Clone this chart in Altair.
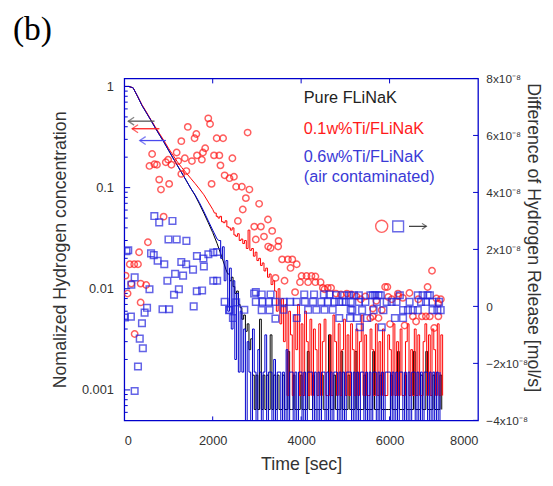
import altair as alt
import pandas as pd

W, H = 359, 347
AXIS_BLUE = "#0000cc"
FONT = "Liberation Sans"
GRAY = "#333333"

# ---------------- scales / ticks ----------------
X_DOMAIN = [0, 8000]
X_TICKS = [0, 2000, 4000, 6000, 8000]
X_INNER_TICKS = [2000, 4000, 6000]
LEFT_DOMAIN = [0.0005, 1.2]
LEFT_MAJOR = [0.001, 0.01, 0.1, 1]
LEFT_MINOR = [0.0006, 0.0007, 0.0008, 0.0009,
              0.002, 0.003, 0.004, 0.005, 0.006, 0.007, 0.008, 0.009,
              0.02, 0.03, 0.04, 0.05, 0.06, 0.07, 0.08, 0.09,
              0.2, 0.3, 0.4, 0.5, 0.6, 0.7, 0.8, 0.9]
RIGHT_DOMAIN = [-4, 8]          # units of 1e-8 mol/s
RIGHT_TICKS = [-4, -2, 0, 2, 4, 6, 8]

# ---------------- normalized concentration (left axis) ----------------
# smooth part sampled every 100 s from t=0
BLACK_SMOOTH = [1.0, 1.0, 0.97, 0.80, 0.65, 0.55, 0.465, 0.39, 0.33, 0.28,
                0.235, 0.197, 0.166, 0.14, 0.118, 0.099, 0.084, 0.069, 0.056, 0.045,
                0.036, 0.028, 0.021, 0.0155]
RED_SMOOTH = [1.0, 1.0, 0.97, 0.80, 0.66, 0.56, 0.47, 0.40, 0.34, 0.29,
              0.245, 0.21, 0.18, 0.158, 0.14, 0.124, 0.11, 0.097, 0.085, 0.072, 0.061]
BLUE_SMOOTH = [1.0, 1.0, 0.97, 0.80, 0.65, 0.55, 0.465, 0.39, 0.33, 0.28,
               0.235, 0.197, 0.166, 0.14, 0.118, 0.099, 0.085, 0.071, 0.058, 0.047,
               0.038, 0.031]
# noisy part sampled every 40 s, values in units of 1e-4
BLACK_TAIL_START = 2340
BLACK_TAIL_E4 = [140, 120, 130, 105, 90, 95, 70, 65, 50, 55,
                 38, 45, 25, 32, 14, 6.4, 14, 6.4, 50, 6.4,
                 14, 6.4, 14, 6.4, 35, 6.4, 14, 6.4, 14, 6.4,
                 6.4, 14, 6.4, 6.4, 24, 6.4, 6.4, 14, 6.4, 6.4,
                 6.4, 14, 6.4, 6.4, 6.4, 24, 6.4, 6.4, 14, 6.4,
                 6.4, 6.4, 6.4, 14, 6.4, 6.4, 6.4, 35, 6.4, 6.4,
                 14, 6.4, 6.4, 6.4, 24, 6.4, 6.4, 6.4, 14, 6.4,
                 6.4, 6.4, 24, 6.4, 6.4, 6.4, 6.4, 14, 6.4, 6.4,
                 6.4, 6.4, 24, 6.4, 6.4, 6.4, 14, 6.4, 6.4, 6.4,
                 6.4, 6.4, 14, 6.4, 6.4, 6.4, 24, 6.4, 6.4, 6.4,
                 14, 6.4, 6.4, 6.4, 6.4, 24, 6.4, 6.4, 6.4, 14,
                 6.4, 6.4, 24, 6.4, 6.4, 6.4, 14, 6.4, 6.4, 6.4,
                 14, 6.4]
RED_TAIL_START = 2040
RED_TAIL_E4 = [560, 520, 500, 520, 460, 450, 470, 410, 400, 380,
               400, 340, 330, 350, 300, 310, 280, 300, 250, 380,
               240, 250, 210, 230, 190, 200, 170, 180, 150, 160,
               130, 140, 110, 120, 95, 60, 100, 45, 80, 30,
               70, 8.8, 60, 35, 8.8, 55, 25, 70, 8.8, 45,
               8.8, 60, 30, 8.8, 50, 8.8, 40, 25, 8.8, 45,
               8.8, 30, 50, 8.8, 8.8, 35, 8.8, 55, 30, 8.8,
               45, 8.8, 25, 50, 8.8, 35, 8.8, 45, 25, 8.8,
               40, 8.8, 30, 55, 8.8, 35, 8.8, 8.8, 40, 25,
               8.8, 45, 8.8, 30, 8.8, 40, 8.8, 8.8, 35, 25,
               8.8, 45, 8.8, 30, 8.8, 40, 8.8, 8.8, 30, 45,
               8.8, 25, 8.8, 40, 8.8, 35, 8.8, 8.8, 30, 45,
               8.8, 35, 8.8, 40, 25, 8.8, 45, 8.8, 35, 8.8]
BLUE_TAIL_START = 2140
BLUE_TAIL_E4 = [300, 200, 260, 120, 190, 60, 160, 40, 120, 20,
                90, 15, 60, 15, 40, 3, 30, 15, 3, 40,
                15, 3, 25, 15, 3, 15, 35, 3, 15, 15,
                3, 20, 3, 15, 15, 3, 15, 3, 25, 3,
                15, 15, 3, 15, 3, 15, 15, 3, 15, 3,
                15, 15, 15, 3, 15, 3, 15, 3, 15, 15,
                3, 15, 3, 15, 3, 15, 15, 3, 15, 3,
                15, 3, 15, 15, 15, 3, 15, 3, 15, 3,
                15, 15, 3, 15, 3, 15, 3, 15, 15, 3,
                15, 3, 15, 3, 15, 15, 15, 3, 15, 3,
                15, 3, 15, 15, 3, 15, 3, 15, 3, 15,
                15, 3, 15, 3, 15, 3, 15, 15, 3, 15,
                3, 15, 3, 15, 3, 15]

# ---------------- difference of hydrogen release (right axis, 1e-8 mol/s) ----------------
RED_PTS_T = [30, 75, 125, 160, 225, 235, 310, 335, 370, 370,
             495, 535, 570, 630, 682, 739, 790, 830, 890, 939,
             992, 1015, 1066, 1185, 1220, 1290, 1290, 1370, 1405, 1437,
             1530, 1590, 1630, 1645, 1755, 1780, 1830, 1900, 1940, 1975,
             2030, 2090, 2150, 2175, 2235, 2270, 2380, 2445, 2480, 2530,
             2570, 2660, 2680, 2750, 2790, 2830, 2940, 2975, 3050, 3090,
             3160, 3250, 3255, 3310, 3345, 3420, 3480, 3490, 3570, 3625,
             3700, 3760, 3800, 3863, 3900, 3974, 4011, 4122, 4158, 4233,
             4322, 4322, 4440, 4491, 4529, 4602, 4677, 4788, 4900, 5033,
             5135, 5250, 5350, 5454, 5565, 5623, 5623, 5750, 5823, 5900,
             5950, 5970, 6010, 6190, 6195, 6340, 6450, 6527, 6600, 6733,
             6822, 6860, 6911, 6960, 7010, 7060, 7100, 7104, 7160, 5700,
             6050, 6300, 6650]
RED_PTS_V = [1.08, 0.45, 1.48, 0.80, 1.48, -0.97, 1.48, 1.90, 0.80, 0.14,
             0.75, 2.25, 4.93, 5.35, 4.99, 4.97, 4.45, 4.10, 3.15, 5.06,
             5.15, 4.30, 4.97, 5.40, 5.10, 5.80, 4.65, 5.20, 4.75, 6.30,
             5.10, 5.90, 6.05, 5.30, 5.15, 5.40, 5.55, 6.60, 6.40, 4.30,
             5.30, 5.90, 5.30, 4.95, 5.90, 4.60, 4.50, 5.20, 4.55, 4.20,
             3.00, 4.20, 3.40, 3.80, 6.10, 4.10, 2.80, 2.35, 3.60, 2.80,
             2.45, 3.05, 2.10, 2.05, 2.65, 1.00, 2.10, 2.30, 1.65, 0.90,
             1.65, 1.35, 1.65, 0.50, 1.48, 0.85, 1.07, 1.07, 0.85, 1.07,
             1.05, 0.85, 0.85, 0.65, 0.60, 0.65, 0.65, 0.45, 0.42, 0.45,
             0.42, 0.35, 0.25, 0.35, -0.41, -0.07, -0.35, -0.41, -0.13, 0.68,
             0.68, 0.33, -0.62, 0.45, 0.36, -0.67, 0.47, -0.35, -0.53, -0.35,
             -0.35, 0.68, -0.35, 1.25, -0.76, 0.28, 0.10, -0.35, 0.25, 0.20,
             0.25, 0.30, 0.25]
BLUE_PTS_T = [15, 50, 90, 150, 160, 235, 235, 310, 350, 400,
              420, 460, 515, 570, 606, 666, 680, 755, 790, 865,
              905, 975, 1000, 1015, 1090, 1125, 1150, 1185, 1235, 1290,
              1330, 1400, 1405, 1555, 1570, 1643, 1640, 1760, 1790, 1800,
              1902, 2013, 2102, 2013, 2100, 2270, 2370, 2382, 2457, 2531,
              2715, 2937, 2975, 2975, 3108, 3108, 3124, 3270, 3286, 3308,
              3419, 3419, 3603, 3603, 3752, 3900, 3900, 4070, 4085, 4158,
              4270, 4292, 4344, 4456, 4514, 4529, 4603, 4640, 4713, 4751,
              4789, 4862, 4862, 4935, 4973, 5010, 5084, 5121, 5121, 5106,
              5157, 5195, 5268, 5306, 5306, 5328, 5379, 5454, 5490, 5566,
              5623, 5639, 5676, 5713, 5750, 5801, 5823, 5861, 5935, 6046,
              6121, 6157, 6232, 6305, 6305, 6416, 6453, 6527, 6638, 6638,
              6711, 6749, 6822, 6860, 6911, 6971, 6971, 7082, 7119, 7156]
BLUE_PTS_V = [-0.39, 1.94, 1.97, -0.36, 0.76, 1.02, -2.97, -2.11, -1.13, -0.59,
              -1.47, -0.22, -0.05, 0.60, 1.86, 1.80, 3.17, 1.60, 2.95, -0.10,
              1.48, 0.90, 2.35, -0.10, 3.00, 0.41, 1.14, 2.35, 0.60, 1.56,
              1.08, 1.48, 2.30, 1.29, 0.00, 1.77, 0.53, 0.56, 1.68, 1.40,
              1.83, 1.89, 1.91, 0.90, 0.90, 0.16, -0.13, -0.12, -0.41, 0.14,
              -0.12, 0.45, 0.50, 0.16, 0.42, -0.13, 0.16, 0.16, -0.13, 0.42,
              0.16, -0.43, 0.16, -0.12, 0.16, 0.16, -0.41, 0.42, 0.16, -0.12,
              0.16, 0.42, -0.12, 0.16, 0.42, -0.12, 0.16, 0.42, -0.12, 0.16,
              0.40, 0.16, -0.41, 0.16, 0.39, 0.16, 0.39, 0.16, -0.12, -0.41,
              -0.13, 0.39, -0.41, 0.39, 0.16, -0.73, -0.13, 0.16, -0.41, 0.39,
              0.39, -0.13, 0.39, 0.16, 0.39, 0.39, -0.73, -0.13, 0.16, 0.16,
              -0.41, 0.16, 0.39, -0.13, -0.41, -0.13, 0.16, -0.13, 0.39, -0.13,
              0.16, 0.39, 0.16, 0.39, 0.39, 0.16, -0.13, -0.13, 0.16, -0.13]

# ---------------- annotations ----------------
PANEL_LABEL = "(b)"
LABEL_TEXT = ["Pure FLiNaK", "0.1w%Ti/FLiNaK", "0.6w%Ti/FLiNaK", "(air contaminated)"]
LABEL_T = [4060, 4060, 4060, 4060]
LABEL_V = [0.766, 0.382, 0.1995, 0.126]
LABEL_COLOR = ["#222222", "#ff1a1a", "#3a3ad6", "#3a3ad6"]

ARROW_TIP_T = [89, 178, 350]
ARROW_TAIL_T = [684, 795, 942]
ARROW_V = [0.454, 0.382, 0.292]
ARROW_COLOR = ["#555555", "#ff2020", "#4a4aee"]

KEY_CIRCLE = (5822, 2.81)
KEY_SQUARE = (6194, 2.81)
KEY_ARROW = (6439, 6833, 2.81)


def smooth_df(smooth, tail_e4, start):
    # smooth decay (100 s sampling) joined to the first noisy sample
    t = [100 * i for i in range(len(smooth))] + [start]
    v = list(smooth) + [tail_e4[0] * 1e-4]
    return pd.DataFrame({"t": t, "v": v})


def tail_df(tail_e4, start):
    t = [start + 40 * i for i in range(len(tail_e4))]
    v = [x * 1e-4 for x in tail_e4]
    return pd.DataFrame({"t": t, "v": v})


common_axis = dict(labelFont=FONT, titleFont=FONT, labelColor=GRAY, titleColor=GRAY,
                   titleFontWeight="normal", ticks=False, tickSize=0, domain=False, grid=False)
x_scale = alt.Scale(domain=X_DOMAIN, nice=False, zero=False)
x_axis = alt.Axis(values=X_TICKS, format="d", labelPadding=15, labelFontSize=13,
                  title="Time [sec]", titleFontSize=18, titlePadding=8, **common_axis)
left_scale = alt.Scale(type="log", domain=LEFT_DOMAIN, nice=False)
left_axis = alt.Axis(orient="left", values=LEFT_MAJOR, format="~g", labelPadding=11,
                     labelFontSize=13, title="Nomalized Hydrogen concentration",
                     titleFontSize=18, titlePadding=12, **common_axis)
right_scale = alt.Scale(domain=RIGHT_DOMAIN, nice=False, zero=False)
right_axis = alt.Axis(orient="right", values=RIGHT_TICKS,
                      labelExpr="datum.value == 0 ? '0' : (datum.value < 0 ? '\u2212' : '') + abs(datum.value) + 'x10\u207b\u2078'",
                      labelPadding=8, labelFontSize=12,
                      title="Difference of Hydrogen Release [mol/s]",
                      titleFontSize=18, titleAngle=90, titleX=46, titleY=161,
                      titleAlign="center", titleBaseline="bottom", **common_axis)


def xe(field):
    return alt.X(field, type="quantitative", scale=x_scale, axis=x_axis)


def ly(field):
    return alt.Y(field, type="quantitative", scale=left_scale, axis=left_axis)


def ry(field):
    return alt.Y(field, type="quantitative", scale=right_scale, axis=right_axis)


def series_layers(smooth, tail_e4, start, color):
    a = alt.Chart(smooth_df(smooth, tail_e4, start)).mark_line(
        color=color, strokeWidth=1, clip=True).encode(x=xe("t"), y=ly("v"))
    b = alt.Chart(tail_df(tail_e4, start)).mark_line(
        color=color, strokeWidth=1, clip=True, interpolate="step-after").encode(x=xe("t"), y=ly("v"))
    return [a, b]


tick_style = dict(color=AXIS_BLUE, strokeWidth=1)
left_major = alt.Chart(pd.DataFrame({"v": LEFT_MAJOR})).mark_rule(**tick_style).encode(
    y=ly("v"), x=alt.value(0), x2=alt.value(6))
left_minor = alt.Chart(pd.DataFrame({"v": LEFT_MINOR})).mark_rule(**tick_style).encode(
    y=ly("v"), x=alt.value(0), x2=alt.value(3.5))
top_ticks = alt.Chart(pd.DataFrame({"t": X_INNER_TICKS})).mark_rule(**tick_style).encode(
    x=xe("t"), y=alt.value(0), y2=alt.value(5))
bottom_ticks = alt.Chart(pd.DataFrame({"t": X_INNER_TICKS})).mark_rule(**tick_style).encode(
    x=xe("t"), y=alt.value(H - 4), y2=alt.value(H))

labels = alt.Chart(pd.DataFrame({"label": LABEL_TEXT, "t": LABEL_T, "v": LABEL_V, "c": LABEL_COLOR})).mark_text(
    align="left", baseline="middle", font=FONT, fontSize=16.5).encode(
    x=xe("t"), y=ly("v"), text="label:N", color=alt.Color("c:N", scale=None))

panel = alt.Chart(pd.DataFrame({"txt": [PANEL_LABEL]})).mark_text(
    align="left", baseline="alphabetic", font="Liberation Serif", fontSize=34, color="#000000").encode(
    x=alt.value(-113), y=alt.value(-39), text="txt:N")

arrow_df = pd.DataFrame({"t1": ARROW_TIP_T, "t2": ARROW_TAIL_T, "v": ARROW_V, "c": ARROW_COLOR})
arrow_lines = alt.Chart(arrow_df).mark_rule(strokeWidth=1.3).encode(
    x=xe("t1"), x2="t2", y=ly("v"), color=alt.Color("c:N", scale=None))
arrow_heads = alt.Chart(arrow_df).mark_point(shape="M1.5,-1L0,0L1.5,1", size=64, filled=False,
                                             strokeWidth=1.3).encode(
    x=xe("t1"), y=ly("v"), color=alt.Color("c:N", scale=None))

line_layers = (series_layers(BLACK_SMOOTH, BLACK_TAIL_E4, BLACK_TAIL_START, "#000000")
               + series_layers(RED_SMOOTH, RED_TAIL_E4, RED_TAIL_START, "#ff0000")
               + series_layers(BLUE_SMOOTH, BLUE_TAIL_E4, BLUE_TAIL_START, "#0000cc"))
left_group = alt.layer(*line_layers, left_major, left_minor, top_ticks, bottom_ticks, labels,
                       arrow_lines, arrow_heads, panel)

red_pts = alt.Chart(pd.DataFrame({"t": RED_PTS_T, "v": RED_PTS_V})).mark_point(
    shape="circle", size=42, filled=False, color="#ff1a1a", strokeWidth=1.5, clip=True).encode(
    x=xe("t"), y=ry("v"))
blue_pts = alt.Chart(pd.DataFrame({"t": BLUE_PTS_T, "v": BLUE_PTS_V})).mark_point(
    shape="square", size=45, filled=False, color="#2222dd", strokeWidth=1.5, clip=True).encode(
    x=xe("t"), y=ry("v"))
right_ticks = alt.Chart(pd.DataFrame({"v": RIGHT_TICKS})).mark_rule(**tick_style).encode(
    y=ry("v"), x=alt.value(W - 5), x2=alt.value(W))
key_circle = alt.Chart(pd.DataFrame({"t": [KEY_CIRCLE[0]], "v": [KEY_CIRCLE[1]]})).mark_point(
    shape="circle", size=150, filled=False, color="#ff2020", strokeWidth=1.4).encode(x=xe("t"), y=ry("v"))
key_square = alt.Chart(pd.DataFrame({"t": [KEY_SQUARE[0]], "v": [KEY_SQUARE[1]]})).mark_point(
    shape="square", size=120, filled=False, color="#2b2bdd", strokeWidth=1.4).encode(x=xe("t"), y=ry("v"))
key_arrow_df = pd.DataFrame({"t1": [KEY_ARROW[0]], "t2": [KEY_ARROW[1]], "v": [KEY_ARROW[2]]})
key_arrow = alt.Chart(key_arrow_df).mark_rule(color="#333333", strokeWidth=1.2).encode(
    x=xe("t1"), x2="t2", y=ry("v"))
key_head = alt.Chart(key_arrow_df).mark_point(shape="M-1.5,-1L0,0L-1.5,1", size=36, filled=False,
                                              color="#333333", strokeWidth=1.2).encode(x=xe("t2"), y=ry("v"))

right_group = alt.layer(red_pts, blue_pts, right_ticks, key_circle, key_square, key_arrow, key_head)

chart = alt.layer(left_group, right_group).resolve_scale(y="independent").properties(
    width=W, height=H,
    autosize=alt.AutoSizeParams(type="none"),
    padding={"left": 118, "top": 68, "right": 68, "bottom": 56},
    background="white",
).configure_view(stroke=AXIS_BLUE, strokeWidth=1.3)

chart.save("out.html", embed_options={"renderer": "svg", "actions": False})
